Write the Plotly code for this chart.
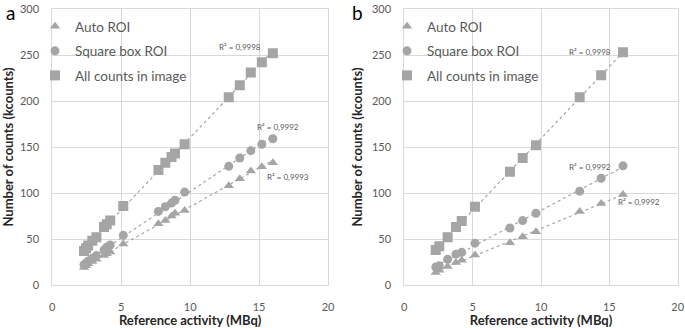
import numpy as np
import plotly.graph_objects as go

# ---------------- data ----------------
# Panel a
act_a = [2.3, 2.45, 2.6, 2.9, 3.2, 3.75, 3.95, 4.2, 5.15, 7.7, 8.2, 8.65, 8.9, 9.6, 12.8, 13.6, 14.4, 15.2, 16.0]
auto_a = [19, 21, 23, 25.5, 28, 32, 34, 36, 44.6, 66.5, 70, 75, 78, 81, 108, 115.6, 124, 128.6, 133]
square_a = [22, 24, 26, 29, 32, 38, 41, 43.5, 54, 80, 85, 89, 92, 101, 129, 138, 146, 153, 159]
allc_a = [37, 40, 43, 48, 52, 63, 66, 70, 86, 125, 133, 139, 143, 153, 204, 217, 231, 242, 252]
r2_a = ["R² = 0,9993", "R² = 0,9992", "R² = 0,9998"]

# Panel b
act_b = [2.3, 2.56, 3.17, 3.78, 4.2, 5.17, 7.73, 8.66, 9.63, 12.83, 14.4, 16.0]
auto_b = [13.5, 16, 20, 24.5, 27, 32.5, 46, 52.5, 58, 80, 88.5, 98.5]
square_b = [19.5, 21, 28, 33.5, 35.5, 45.5, 62, 70, 78, 102, 116, 129.5]
allc_b = [38, 42, 52, 63, 69.5, 85, 123, 138, 152, 204, 228, 253]
r2_b = ["R² = 0,9992", "R² = 0,9992", "R² = 0,9998"]

series_names = ["Auto ROI", "Square box ROI", "All counts in image"]
symbols = ["triangle-up", "circle", "square"]
panel_letters = ["a", "b"]
x_ticks = [0, 5, 10, 15, 20]
y_ticks = [0, 50, 100, 150, 200, 250, 300]

# ---------------- style ----------------
FONT = "Lato"
GRAY = "#a5a5a5"
GRID = "#d9d9d9"
TICKC = "#595959"
TITLEC = "#262626"
W, H = 685, 328
M_T, M_B = 9, 43
PLOT_H = H - M_T - M_B

def py2paper(py):
    return (H - M_B - py) / PLOT_H

fig = go.Figure()

panels = [
    ("x", "y", "legend", act_a, [auto_a, square_a, allc_a], r2_a,
     [(17.1, 117.7), (16.4, 172), (13.6, 259)]),
    ("x2", "y2", "legend2", act_b, [auto_b, square_b, allc_b], r2_b,
     [(17.2, 90.5), (13.6, 128.6), (13.6, 253)]),
]

for xa, ya, leg, xs, ys_list, r2s, r2pos in panels:
    for name, sym, ys in zip(series_names, symbols, ys_list):
        xarr = np.array(xs, dtype=float)
        yarr = np.array(ys, dtype=float)
        k, b = np.polyfit(xarr, yarr, 1)
        xl = np.array([xarr.min(), xarr.max()])
        fig.add_trace(go.Scatter(
            x=xl, y=k * xl + b, mode="lines", xaxis=xa, yaxis=ya,
            line=dict(color=GRAY, width=1.2, dash="dot"),
            showlegend=False, hoverinfo="skip"))
    for name, sym, ys in zip(series_names, symbols, ys_list):
        fig.add_trace(go.Scatter(
            x=xs, y=ys, mode="markers", name=name, xaxis=xa, yaxis=ya,
            legend=leg, legendgroup=leg + name,
            marker=dict(symbol=sym, color=GRAY, size=10 if sym == "square" else 9,
                        line=dict(width=0))))
    for txt, (tx, ty) in zip(r2s, r2pos):
        fig.add_annotation(x=tx, y=ty, xref=xa, yref=ya, text=txt,
                           showarrow=False, font=dict(family=FONT, size=8, color=TICKC))

axis_common = dict(showgrid=True, gridcolor=GRID, gridwidth=1, zeroline=False,
                   showline=True, linecolor=GRID, linewidth=1, mirror=True,
                   automargin=False,
                   tickfont=dict(family=FONT, size=11, color=TICKC), ticks="")

dom_a = [52.3 / W, 328 / W]
dom_b = [404.3 / W, 677.7 / W]

for suffix, dom, anchor_x, anchor_y in [("", dom_a, "y", "x"), ("2", dom_b, "y2", "x2")]:
    fig.update_layout(**{
        "xaxis" + suffix: dict(axis_common, domain=dom, range=[0, 20], tickvals=x_ticks,
                               anchor=anchor_x, ticklabelstandoff=12,
                               title=dict(text="<b>Reference activity (MBq)</b>", standoff=4,
                                          font=dict(family=FONT, size=13, color=TITLEC))),
        "yaxis" + suffix: dict(axis_common, domain=[0, 1], range=[0, 300], tickvals=y_ticks,
                               anchor=anchor_y, ticklabelstandoff=10,
                               title=dict(text="<b>Number of counts (kcounts)</b>", standoff=6,
                                          font=dict(family=FONT, size=13, color=TITLEC))),
    })

leg_common = dict(bgcolor="rgba(0,0,0,0)", font=dict(family=FONT, size=13.5, color=TICKC),
                  tracegroupgap=4, traceorder="grouped", itemwidth=30,
                  xanchor="left", yanchor="top", y=py2paper(11))
fig.update_layout(
    legend=dict(leg_common, x=35 / W),
    legend2=dict(leg_common, x=387 / W),
)

# white areas behind legends (hide gridlines like the original legend box)
for x0, x1 in [(53.5, 192), (405.5, 545)]:
    fig.add_shape(type="rect", xref="paper", yref="paper", x0=x0 / W, x1=x1 / W,
                  y0=py2paper(85), y1=py2paper(11), fillcolor="white",
                  line=dict(width=0), layer="between")

# panel letters
for letter, px, pyy in [(panel_letters[0], 10, 12), (panel_letters[1], 357, 12)]:
    fig.add_annotation(x=px / W, y=py2paper(pyy), xref="paper", yref="paper",
                       text=letter, showarrow=False, xanchor="center", yanchor="middle",
                       font=dict(family=FONT, size=19, color="#000000"))

fig.update_layout(width=W, height=H, margin=dict(l=0, r=0, t=M_T, b=M_B),
                  paper_bgcolor="white", plot_bgcolor="white",
                  font=dict(family=FONT), hovermode=False)

fig.write_html("out.html", config={"displayModeBar": False},
               post_script="document.body.style.margin='0';document.body.style.overflow='hidden';")
